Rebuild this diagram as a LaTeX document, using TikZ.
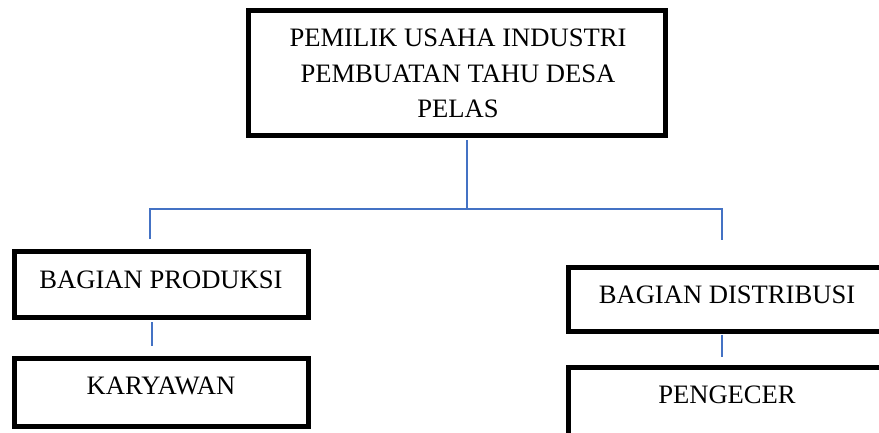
\documentclass[tikz,border=0pt]{standalone}
\usepackage{fontspec}
\setmainfont{Liberation Serif}
\begin{document}
\begin{tikzpicture}[x=1pt,y=-1pt,
  box/.style={draw=black,line width=5pt,rectangle,inner sep=0pt},
  lbl/.style={anchor=base,inner sep=0pt,font=\fontsize{26.6}{35.5}\selectfont,align=center},
  conn/.style={draw=lineblue,line width=1.6pt}]
\definecolor{lineblue}{RGB}{68,114,196}
\useasboundingbox (0,0) rectangle (879,433);
\clip (0,0) rectangle (879,433);
% boxes
\node[box,minimum width=417pt,minimum height=125pt] (top) at (457,73) {};
\node[box,minimum width=294pt,minimum height=66pt] (bp) at (161,284) {};
\node[box,minimum width=294pt,minimum height=68pt] (kar) at (161,392) {};
\node[box,minimum width=318pt,minimum height=64pt] (bd) at (727,299) {};
\node[box,minimum width=318pt,minimum height=82pt] (pen) at (727,408) {};
% labels
\node[lbl] (ttop) at (458,118) {PEMILIK USAHA INDUSTRI\\PEMBUATAN TAHU DESA\\PELAS};
\node[lbl] (tbp) at (161,288) {BAGIAN PRODUKSI};
\node[lbl] (tkar) at (161,394) {KARYAWAN};
\node[lbl] (tbd) at (727,303) {BAGIAN DISTRIBUSI};
\node[lbl] (tpen) at (727,403) {PENGECER};
% connector coordinates
\coordinate (j) at (467,209);
\coordinate (jl) at (150,209);
\coordinate (jr) at (722,209);
\coordinate (dl) at (150,239);
\coordinate (dr) at (722,240);
\coordinate (el) at (152,346);
\coordinate (er) at (722,357);
% connectors
\draw[conn] ([yshift=-2.5pt]top.south -| j) -- (j);
\draw[conn] (dl) -- (jl) -- (jr) -- (dr);
\draw[conn] ([yshift=-2.5pt]bp.south -| el) -- (el);
\draw[conn] ([yshift=-1pt]bd.south -| er) -- (er);
\end{tikzpicture}
\end{document}
